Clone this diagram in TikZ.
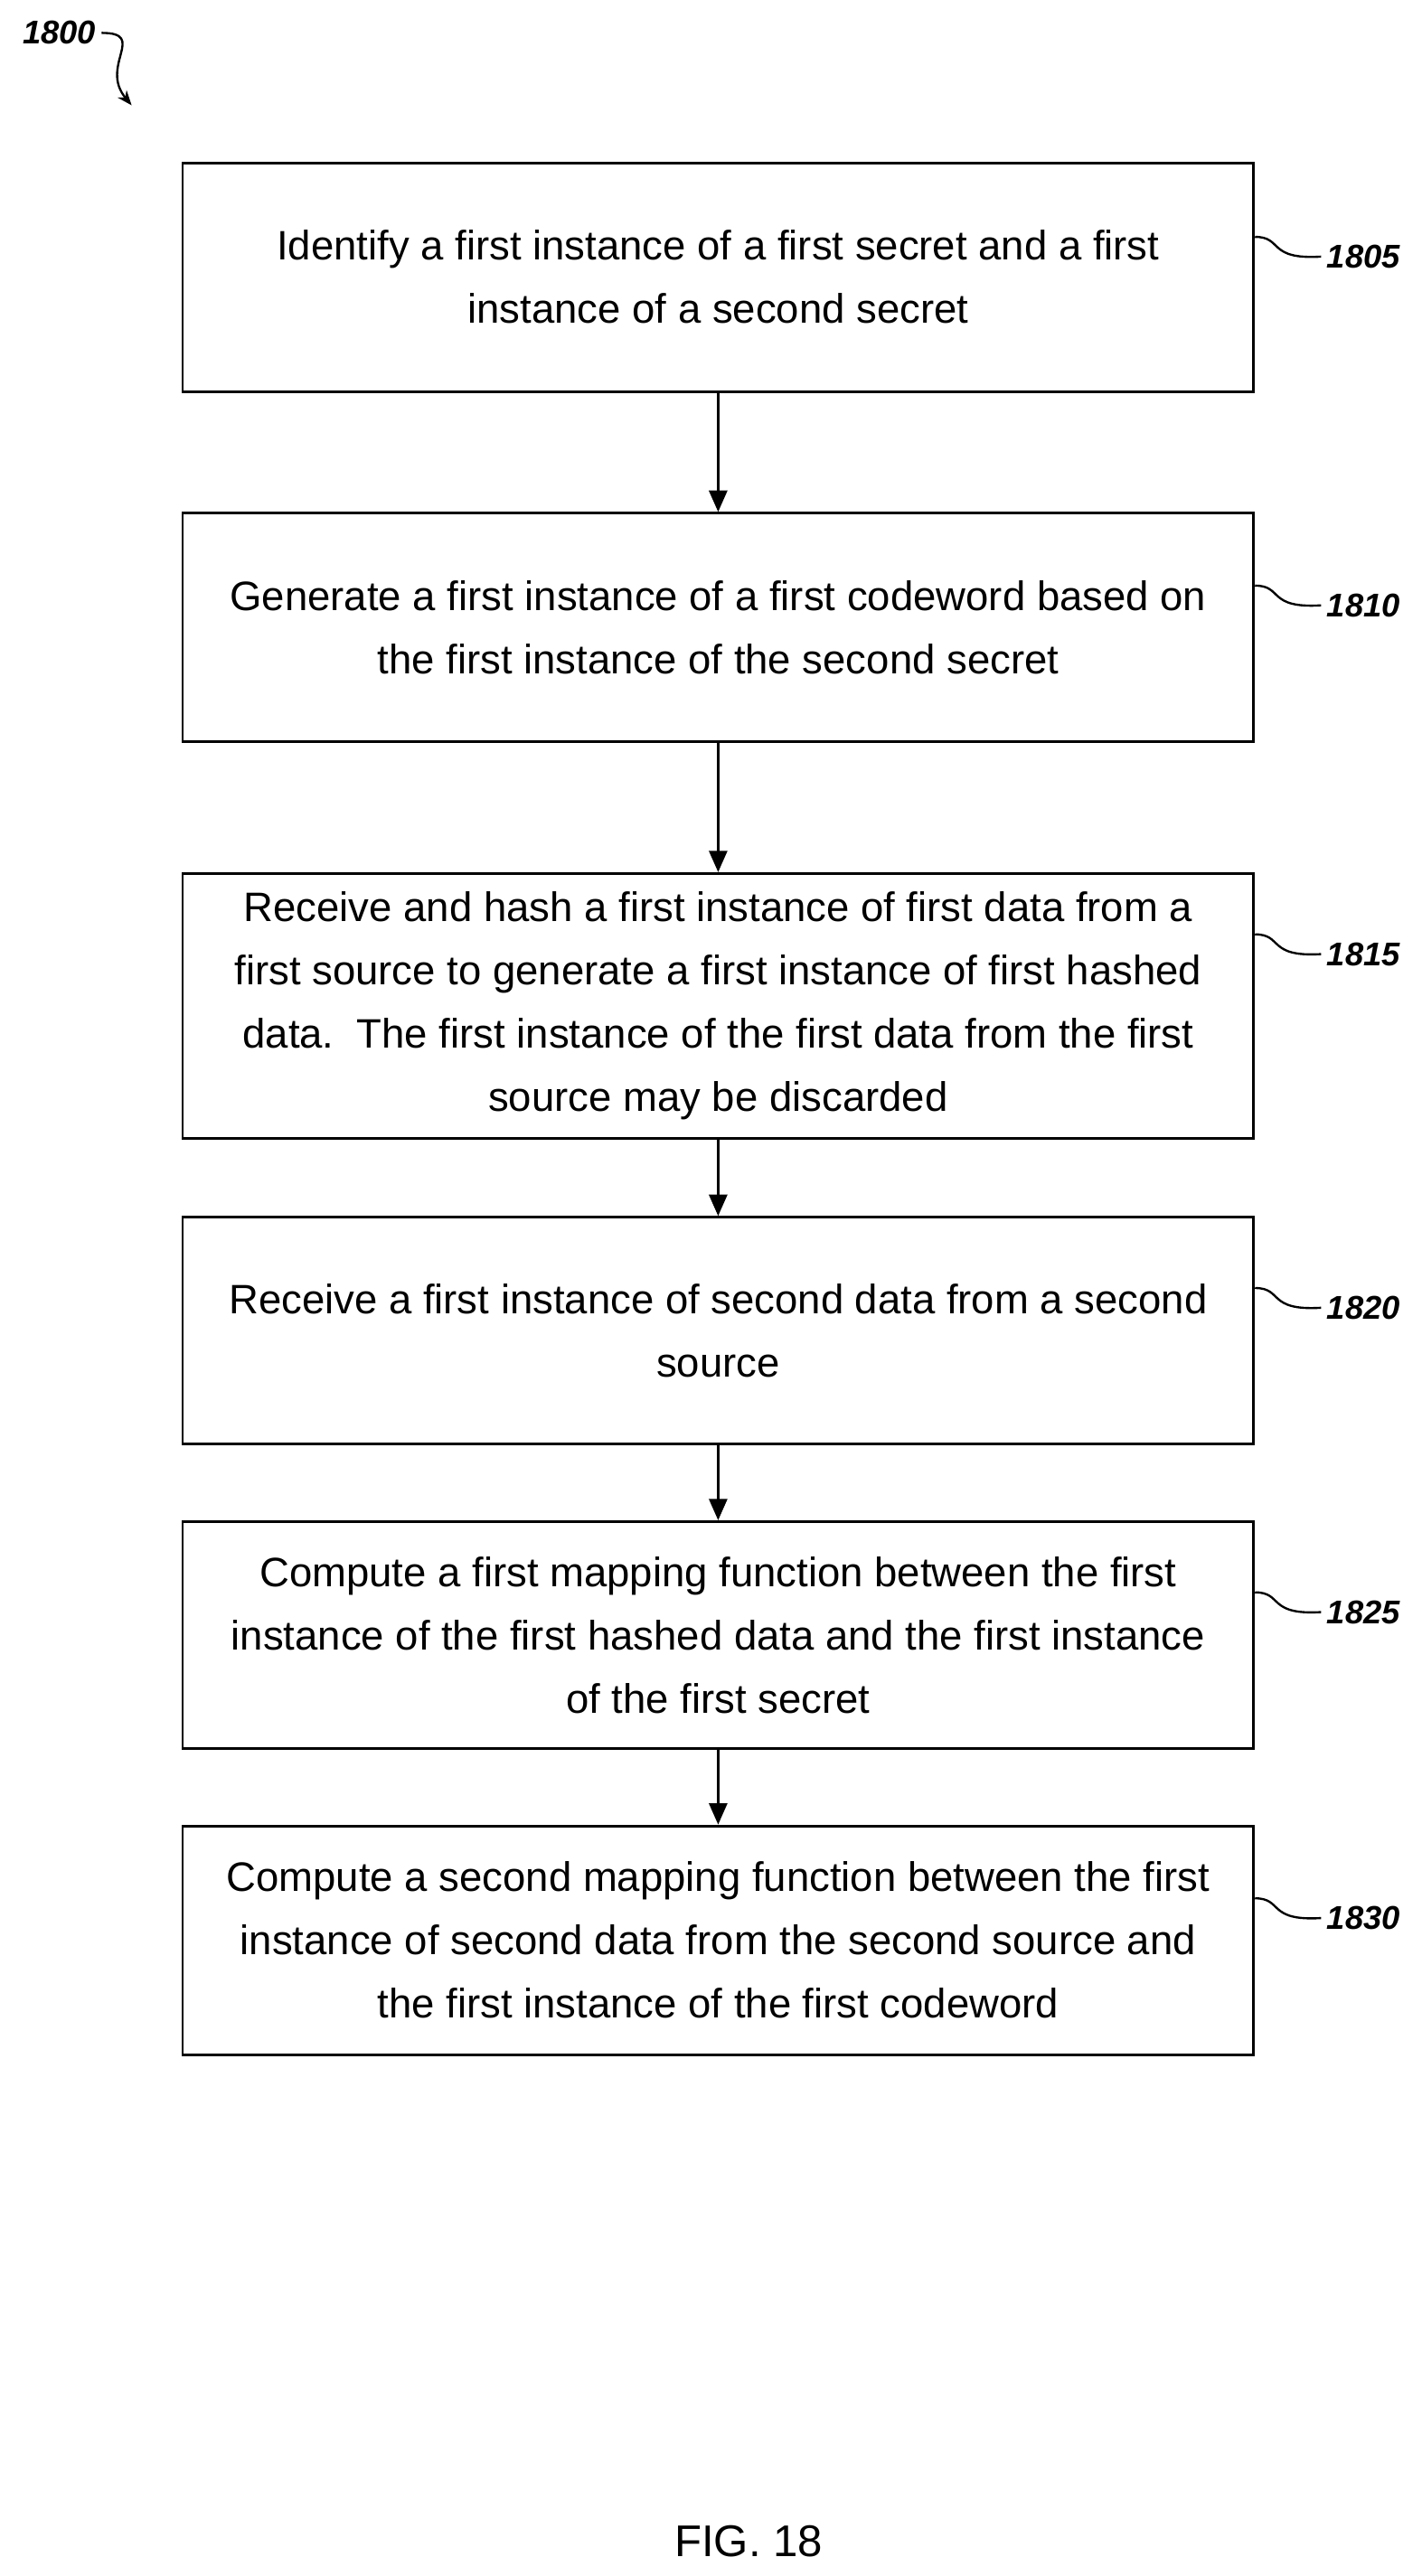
\documentclass[tikz,border=0pt]{standalone}
\usepackage{fontspec}
\setmainfont{Liberation Sans}
\usetikzlibrary{arrows.meta}
\begin{document}
\begin{tikzpicture}[x=1pt,y=1pt,
  box/.style={draw,line width=1.6pt,minimum width=651pt,align=center,font=\fontsize{25}{38.5}\selectfont,inner sep=0pt},
  lab/.style={font=\fontsize{20}{24}\selectfont\bfseries\itshape,anchor=west},
  arr/.style={-{Triangle[length=13pt,width=11pt]},line width=1.6pt},
  sq/.style={line width=1.3pt}]
\useasboundingbox (0,0) rectangle (864,-1566);
\node[box,minimum height=139pt] (b1) at (436.5,-168.5) {Identify a first instance of a first secret and a first\\instance of a second secret};
\node[box,minimum height=139pt] (b2) at (436.5,-381.5) {Generate a first instance of a first codeword based on\\the first instance of the second secret};
\node[box,minimum height=161pt] (b3) at (436.5,-611.5) {Receive and hash a first instance of first data from a\\first source to generate a first instance of first hashed\\data.\ \ The first instance of the first data from the first\\source may be discarded};
\node[box,minimum height=138pt] (b4) at (436.5,-809) {Receive a first instance of second data from a second\\source};
\node[box,minimum height=138pt] (b5) at (436.5,-994) {Compute a first mapping function between the first\\instance of the first hashed data and the first instance\\of the first secret};
\node[box,minimum height=139pt] (b6) at (436.5,-1179.5) {Compute a second mapping function between the first\\instance of second data from the second source and\\the first instance of the first codeword};
\foreach \a/\b in {b1/b2,b2/b3,b3/b4,b4/b5,b5/b6} \draw[arr] (\a.south) -- (\b.north);
\foreach \b/\t/\y in {b1/1805/-156,b2/1810/-368,b3/1815/-580,b4/1820/-795,b5/1825/-980,b6/1830/-1166}{
  \node[lab] (l\t) at (803,\y) {\t};
  \coordinate (s\t) at (\b.east|-0,\y-12);
  \draw[sq] (\b.east |- 0,\y+12) .. controls (780,\y+12) and (770,\y-2) .. (l\t.west);
}
\node[lab,anchor=center] (l1800) at (36,-20) {1800};
\coordinate (e1800) at (80,-64);
\draw[sq,-{Stealth[length=9pt,width=7pt]}] (l1800.east) .. controls (90,-20) and (60,-40) .. (e1800);
\node[font=\fontsize{27}{30}\selectfont] (fig) at (455,-1545) {FIG. 18};
\end{tikzpicture}
\end{document}
